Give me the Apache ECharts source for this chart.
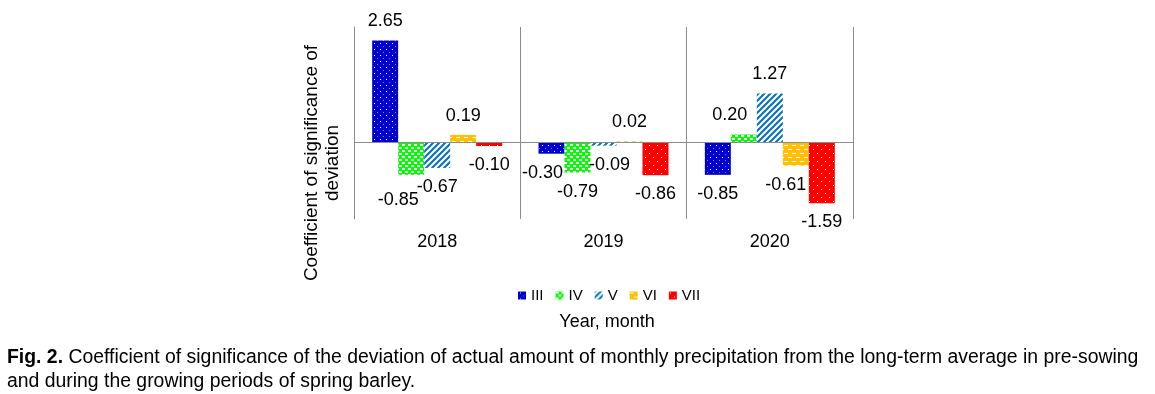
<!DOCTYPE html>
<html>
<head>
<meta charset="utf-8">
<script src="https://cdn.jsdelivr.net/npm/echarts@6/dist/echarts.min.js"></script>
<style>
  html, body { margin: 0; padding: 0; background: #fff; }
  #chart { width: 1155px; height: 394px; }
</style>
</head>
<body>
<div id="chart"></div>
<script>
// data
const years = ['2018', '2019', '2020']
const months = ['III', 'IV', 'V', 'VI', 'VII']
const valIII = [2.65, -0.30, -0.85]
const valIV = [-0.85, -0.79, 0.20]
const valV = [-0.67, -0.09, 1.27]
const valVI = [0.19, 0.02, -0.61]
const valVII = [-0.10, -0.86, -1.59]
const allValues = [valIII, valIV, valV, valVI, valVII]

const font = '"Liberation Sans", Arial, sans-serif'
const lineGray = '#8c8c8c'

// small hatch / dot tiles like the excel fills
function tile(w, h, bg, draw) {
  const c = document.createElement('canvas')
  c.width = w
  c.height = h
  const ctx = c.getContext('2d')
  ctx.fillStyle = bg
  ctx.fillRect(0, 0, w, h)
  draw(ctx)
  return { image: c, repeat: 'repeat' }
}

const fills = [
  tile(6, 6, '#0000cc', ctx => {
    ctx.fillStyle = '#ffffff'
    ctx.fillRect(2, 1, 1, 1)
    ctx.fillStyle = '#7f7fff'
    ctx.fillRect(5, 4, 1, 1)
  }),
  tile(6, 6, '#00ff00', ctx => {
    ctx.fillStyle = '#ffffff'
    ctx.fillRect(0, 0, 3, 2)
    ctx.fillRect(3, 3, 3, 2)
  }),
  tile(6, 6, '#ffffff', ctx => {
    ctx.strokeStyle = '#0070c0'
    ctx.lineWidth = 2
    ctx.beginPath()
    ctx.moveTo(-1, 7); ctx.lineTo(7, -1)
    ctx.moveTo(-1, 1); ctx.lineTo(1, -1)
    ctx.moveTo(5, 7); ctx.lineTo(7, 5)
    ctx.stroke()
  }),
  tile(8, 8, '#ffc000', ctx => {
    ctx.fillStyle = '#ffffff'
    ctx.fillRect(0, 1, 4, 1)
    ctx.fillRect(4, 5, 4, 1)
  }),
  tile(8, 8, '#ff0000', ctx => {
    ctx.fillStyle = '#ffffff'
    ctx.fillRect(1, 1, 1, 1)
    ctx.fillRect(5, 5, 1, 1)
  })
]

// manual label shifts (like the hand-moved labels in the original)
const nudge = {
  '1-0': [-13, 6],
  '0-1': [-9, 0],
  '2-1': [6, 0],
  '1-2': [-14, 0],
  '3-2': [-10, 0]
}

const series = months.map((m, si) => ({
  name: m,
  type: 'bar',
  barWidth: 26,
  barGap: '0%',
  itemStyle: { color: fills[si] },
  label: {
    show: true,
    distance: 10,
    color: '#000',
    fontSize: 18,
    fontFamily: font,
    formatter: p => p.value.toFixed(2)
  },
  data: allValues[si].map((v, i) => ({
    value: v,
    label: {
      position: v < 0 ? 'bottom' : 'top',
      offset: nudge[si + '-' + i] || [0, 0]
    }
  })),
  markLine: si === 0 ? {
    silent: true,
    symbol: 'none',
    label: { show: false },
    lineStyle: { color: lineGray, type: 'solid', width: 1 },
    data: [{ yAxis: 0 }]
  } : undefined
}))

const chart = echarts.init(document.getElementById('chart'))
chart.setOption({
  animation: false,
  textStyle: { fontFamily: font },
  grid: { left: 354, right: 302, top: 27, bottom: 175 },
  legend: {
    data: months,
    left: 513,
    top: 283,
    itemWidth: 8,
    itemHeight: 8,
    itemGap: 12,
    icon: 'rect',
    textStyle: { fontSize: 15, color: '#000', fontFamily: font }
  },
  title: {
    left: 2,
    top: 341,
    text: '{b|Fig. 2.} Coefficient of significance of the deviation of actual amount of monthly precipitation from the long-term average in pre-sowing\nand during the growing periods of spring barley.',
    textStyle: {
      fontSize: 19.4,
      fontWeight: 'normal',
      color: '#000',
      fontFamily: font,
      lineHeight: 24,
      rich: {
        b: { fontSize: 19.4, fontWeight: 'bold', color: '#000', fontFamily: font, lineHeight: 24 }
      }
    }
  },
  xAxis: {
    type: 'category',
    data: years,
    axisLine: { show: false, onZero: false },
    axisTick: { show: false },
    axisLabel: { color: '#000', fontSize: 18, fontFamily: font, margin: 14 },
    splitLine: { show: true, lineStyle: { color: lineGray, width: 1 } }
  },
  yAxis: {
    type: 'value',
    min: -2,
    max: 3,
    interval: 1,
    axisLine: { show: true, lineStyle: { color: lineGray } },
    axisTick: { show: false },
    axisLabel: { show: false },
    splitLine: { show: false }
  },
  graphic: [
    {
      type: 'text',
      x: 322,
      y: 163,
      rotation: Math.PI / 2,
      style: {
        text: 'Coefficient of significance of\ndeviation',
        fontSize: 19,
        fontFamily: font,
        fill: '#000',
        align: 'center',
        verticalAlign: 'middle',
        lineHeight: 21
      }
    },
    {
      type: 'text',
      x: 607,
      y: 322,
      style: {
        text: 'Year, month',
        fontSize: 18,
        fontFamily: font,
        fill: '#000',
        align: 'center',
        verticalAlign: 'middle'
      }
    }
  ],
  series: series
})
</script>
</body>
</html>
